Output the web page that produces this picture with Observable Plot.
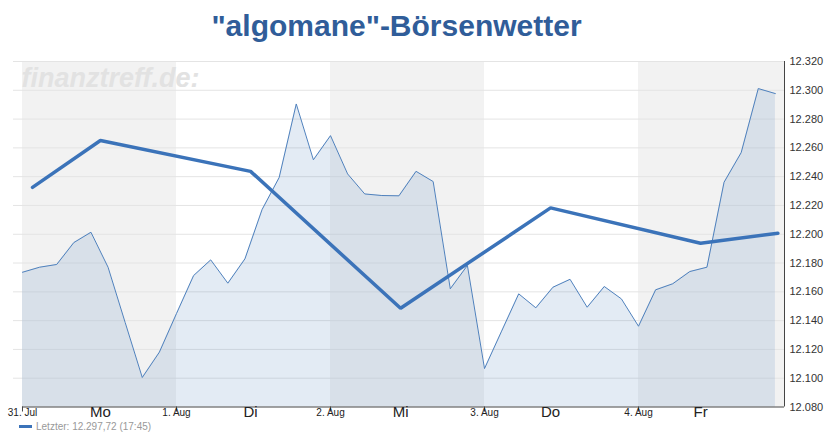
<!DOCTYPE html>
<html>
<head>
<meta charset="utf-8">
<script src="https://cdn.jsdelivr.net/npm/d3@7"></script>
<script src="https://cdn.jsdelivr.net/npm/@observablehq/plot@0.6"></script>
<style>
  html, body { margin: 0; padding: 0; background: #fff; }
  #wrap { position: relative; width: 833px; height: 440px; font-family: "Liberation Sans", Arial, sans-serif; }
  #title { position: absolute; left: 0; width: 793px; top: 9px; text-align: center; font-size: 30px; font-weight: bold; color: #305d99; }
  #legend { position: absolute; left: 19px; top: 421px; font-size: 10px; color: #999; display: flex; align-items: center; }
  #legend span.sw { display: inline-block; width: 13px; height: 3px; background: #3b73b9; margin-right: 4px; }
  #chart { position: absolute; left: 0; top: 0; }
</style>
</head>
<body>
<div id="wrap">
  <div id="chart"></div>
  <div id="title">"algomane"-Börsenwetter</div>
  <div id="legend"><span class="sw"></span>Letzter: 12.297,72 (17:45)</div>
</div>
<script>
// Index values (9 readings per trading day, 5 days)
const indexValues = [
  12173.6, 12177.1, 12179.0, 12194.2, 12201.4, 12177.1, 12138.7, 12100.5, 12118.1,
  12144.9, 12171.3, 12182.2, 12166.0, 12182.9, 12217.1, 12239.4, 12290.5, 12251.7,
  12268.5, 12241.9, 12228.0, 12226.9, 12226.7, 12243.7, 12236.6, 12162.1, 12178.3,
  12106.7, 12132.7, 12158.6, 12148.9, 12163.2, 12168.7, 12149.3, 12163.7, 12155.1,
  12136.1, 12161.4, 12165.6, 12174.1, 12177.1, 12236.1, 12256.7, 12301.2, 12297.7
];
const readingsPerDay = 9;

// "Börsenwetter" forecast line (x in trading-day units)
const forecastX = [0.065, 0.506, 1.481, 2.455, 3.429, 4.403, 4.905];
const forecastValues = [12232.6, 12265.1, 12243.7, 12148.6, 12218.3, 12193.7, 12200.7];

// Tick labels
const dateLabels = ["31. Jul", "1. Aug", "2. Aug", "3. Aug", "4. Aug"];
const dayLabels = ["Mo", "Di", "Mi", "Do", "Fr"];
const yTicks = [12080, 12100, 12120, 12140, 12160, 12180, 12200, 12220, 12240, 12260, 12280, 12300, 12320];
const shadedDays = [0, 2, 4];

const xMin = -0.0584, xMax = 4.948;
const yMin = 12080, yMax = 12320;

const series = indexValues.map((v, i) => ({t: i / readingsPerDay, v}));
const forecast = forecastValues.map((v, i) => ({t: forecastX[i], v}));
const bands = shadedDays.map(d => ({x1: d, x2: Math.min(d + 1, xMax)}));
const dayMarks = dayLabels.map((d, i) => ({t: forecastX[i + 1], d}));
const fmt = d => d3.format(",")(d).replace(/,/g, ".");

const chart = Plot.plot({
  width: 833,
  height: 440,
  marginLeft: 13,
  marginRight: 49,
  marginTop: 61,
  marginBottom: 33.5,
  x: {domain: [xMin, xMax], axis: null},
  y: {domain: [yMin, yMax], axis: null},
  style: {fontFamily: '"Liberation Sans", Arial, sans-serif', background: "transparent", overflow: "visible"},
  marks: [
    Plot.rect(bands, {x1: "x1", x2: "x2", fill: "#f2f2f2"}),
    Plot.ruleY(yTicks.slice(1), {stroke: "#e4e4e4"}),
    Plot.text(["finanztreff.de:"], {frameAnchor: "top-left", dx: 8, dy: 6.5, lineAnchor: "top", textAnchor: "start",
      fontSize: 27, fontWeight: "bold", fontStyle: "italic", fill: "#e2e2e2"}),
    Plot.areaY(series, {x: "t", y1: yMin, y2: "v", fill: "#4a7ebb", fillOpacity: 0.155}),
    Plot.line(series, {x: "t", y: "v", stroke: "#4f81bd", strokeWidth: 1}),
    Plot.line(forecast, {x: "t", y: "v", stroke: "#3b73b9", strokeWidth: 3.5, strokeLinejoin: "miter"}),
    Plot.ruleY([yMin], {x1: 0, x2: xMax, stroke: "#444"}),
    Plot.ruleX([xMax], {stroke: "#444"}),
    Plot.axisY(yTicks, {anchor: "right", tickSize: 0, tickPadding: 5, tickFormat: fmt, fontSize: 11, fill: "#333", label: null}),
    Plot.axisX([0, 1, 2, 3, 4], {anchor: "bottom", tickSize: 5, tickPadding: -3, tickFormat: i => dateLabels[i], fontSize: 10, fill: "#222", stroke: "#444", label: null}),
    Plot.text(dayMarks, {x: "t", text: "d", frameAnchor: "bottom", dy: 10, fontSize: 15, fill: "#222"})
  ]
});
document.getElementById("chart").appendChild(chart);
</script>
</body>
</html>
